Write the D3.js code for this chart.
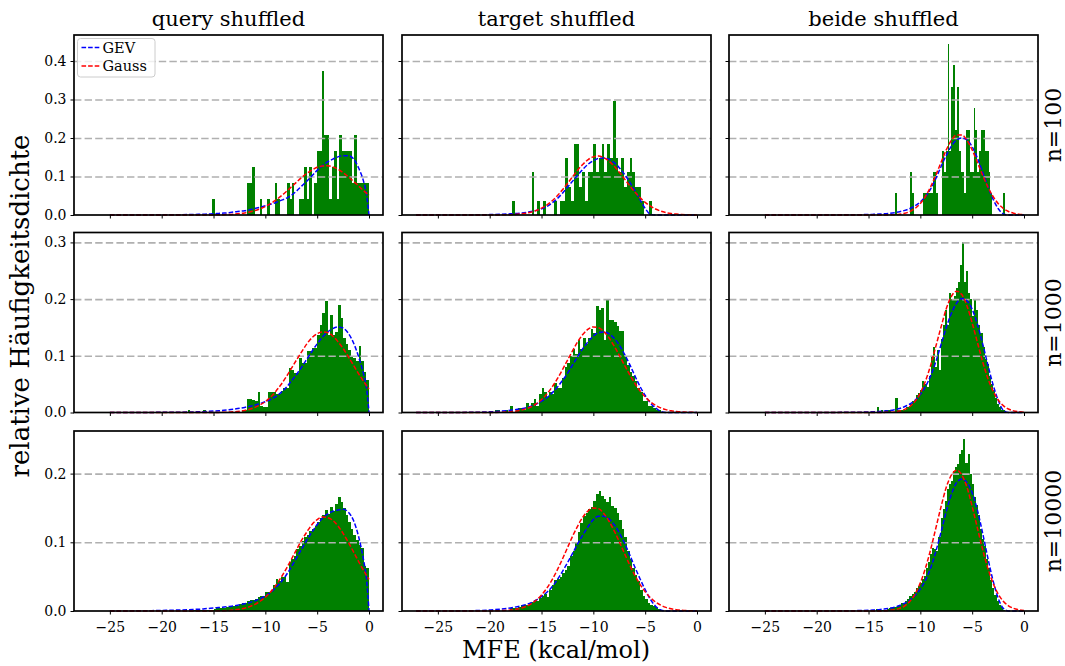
<!DOCTYPE html>
<html>
<head>
<meta charset="utf-8">
<script src="https://cdn.jsdelivr.net/npm/d3@7"></script>
<style>
  body { margin: 0; background: #fff; }
  svg { display: block; font-family: 'DejaVu Serif', serif; }
</style>
</head>
<body>
<div id="chart"></div>
<script>

// ---- data ----

const columnTitles = ['query shuffled', 'target shuffled', 'beide shuffled']
const rowLabels = ['n=100', 'n=1000', 'n=10000']
const xTicks = [-25, -20, -15, -10, -5, 0]
const xDomain = [-28.46, 1.35]
const yTicksByRow = [[0, 0.1, 0.2, 0.3, 0.4], [0, 0.1, 0.2, 0.3], [0, 0.1, 0.2]]
const yMaxByRow = [0.4675, 0.3175, 0.262]
const legendLabels = ['GEV', 'Gauss']

// histogram bins: first edge and width per panel (row x column)
const binStart = [[-15.1, -17.85, -12.42], [-18, -19.5, -14.4], [-17, -18, -14.25]]
const binWidth = [[0.2397, 0.27, 0.18], [0.25, 0.25, 0.2], [0.25, 0.25, 0.2]]

// relative densities per bin
const histQuery100 = [0.042,0,0,0,0,0,0,0,0,0,0,0,0,0,0.083,0.083,0.125,0,0,0.042,0,0,0.042,0,0,0.083,0.042,0,0,0,0.083,0.042,0.083,0,0,0.042,0.042,0.125,0.042,0.125,0,0.083,0.167,0.167,0.375,0.209,0.209,0.042,0.125,0.167,0.042,0.209,0.167,0.167,0.167,0.167,0.083,0.209,0.083,0.083,0.083,0.083,0.083]
const histTarget100 = [0.037,0,0,0,0,0,0,0.111,0,0.037,0,0.037,0,0,0,0.037,0,0.037,0.037,0.148,0.074,0.037,0.185,0.185,0.074,0.111,0.037,0.111,0.111,0.185,0.111,0.148,0.185,0.111,0.185,0.148,0.296,0.148,0.111,0.148,0.074,0.111,0.148,0.111,0.074,0.074,0.037,0,0,0.037]
const histBeide100 = [0.056,0,0,0,0,0,0,0,0.111,0.056,0,0,0,0,0,0.056,0.056,0.056,0.056,0.056,0.111,0.111,0.056,0,0,0.167,0.111,0.167,0.444,0.167,0.333,0.389,0.222,0.333,0.167,0.111,0.111,0.056,0.222,0.222,0.111,0.111,0.278,0.222,0.111,0.167,0.222,0.222,0.167,0.167,0.111,0.056,0,0,0,0,0,0,0.056]

const histQuery1000 = [0,0,0.004,0,0,0,0,0,0.004,0,0,0,0,0,0,0,0,0,0,0,0,0,0,0.004,0.004,0.024,0.024,0.022,0.02,0.037,0.011,0.01,0.01,0.037,0.037,0.036,0.032,0.032,0.038,0.043,0.043,0.079,0.075,0.07,0.07,0.096,0.088,0.088,0.108,0.108,0.114,0.114,0.137,0.154,0.175,0.196,0.137,0.172,0.137,0.142,0.19,0.167,0.131,0.12,0.111,0.1,0.096,0.09,0.117,0.09,0.072,0.058]
const histTarget1000 = [0.004,0.004,0,0,0.004,0,0.012,0,0.004,0.008,0.008,0.004,0.016,0.012,0.016,0.024,0.012,0.032,0.044,0.036,0.028,0.036,0.032,0.052,0.044,0.044,0.06,0.08,0.088,0.1,0.112,0.104,0.128,0.112,0.132,0.12,0.132,0.148,0.14,0.188,0.18,0.184,0.128,0.2,0.164,0.164,0.16,0.152,0.144,0.144,0.1,0.084,0.072,0.064,0.056,0.044,0.036,0.02,0.02,0.012,0.012,0.008,0.004,0.004]
const histBeide1000 = [0,0.01,0,0.005,0,0.005,0.005,0.005,0,0,0.025,0.005,0.005,0.005,0.005,0.01,0.01,0.015,0.02,0.02,0.03,0.035,0.04,0.055,0.05,0.045,0.065,0.1,0.115,0.08,0.11,0.075,0.13,0.155,0.18,0.155,0.21,0.2,0.205,0.22,0.23,0.26,0.3,0.23,0.25,0.21,0.2,0.17,0.2,0.18,0.155,0.14,0.115,0.095,0.085,0.065,0.05,0.04,0.025,0.015,0.01,0.005,0.005]

const histQuery10000 = [0.001,0.001,0.001,0.001,0.002,0.002,0.002,0.002,0.003,0.004,0.004,0.005,0.005,0.006,0.006,0.007,0.008,0.008,0.01,0.011,0.012,0.014,0.016,0.016,0.018,0.02,0.022,0.022,0.027,0.028,0.031,0.038,0.047,0.044,0.05,0.05,0.042,0.072,0.076,0.08,0.09,0.095,0.102,0.108,0.11,0.117,0.12,0.124,0.13,0.135,0.14,0.147,0.141,0.152,0.145,0.156,0.166,0.158,0.15,0.14,0.13,0.12,0.11,0.104,0.096,0.091,0.065,0.063]
const histTarget10000 = [0.005,0.005,0.005,0.006,0.009,0.009,0.009,0.011,0.013,0.015,0.015,0.019,0.022,0.025,0.021,0.031,0.038,0.045,0.047,0.05,0.055,0.06,0.066,0.08,0.087,0.1,0.115,0.128,0.138,0.143,0.148,0.152,0.16,0.171,0.175,0.168,0.163,0.158,0.166,0.153,0.15,0.142,0.132,0.12,0.107,0.088,0.075,0.062,0.052,0.043,0.03,0.022,0.017,0.012,0.009,0.007,0.005,0.003,0.002]
const histBeide10000 = [0.003,0.001,0.001,0.002,0.002,0.003,0.004,0.005,0.006,0.006,0.007,0.009,0.011,0.012,0.015,0.018,0.022,0.025,0.028,0.033,0.036,0.041,0.046,0.051,0.062,0.071,0.083,0.092,0.09,0.088,0.107,0.136,0.148,0.16,0.177,0.185,0.189,0.204,0.21,0.214,0.228,0.235,0.25,0.215,0.229,0.2,0.185,0.166,0.155,0.14,0.12,0.105,0.094,0.075,0.062,0.045,0.033,0.024,0.014,0.009,0.006,0.002]

// fitted curves, read at these MFE values
const curveX = [-27.1,-25,-22,-20,-18,-17,-16,-15.5,-15,-14.5,-14,-13.5,-13,-12.5,-12,-11.5,-11,-10.5,-10,-9.5,-9,-8.5,-8,-7.5,-7,-6.5,-6,-5.5,-5,-4.5,-4,-3.5,-3,-2.5,-2,-1.5,-1,-0.5,-0.25,0]

const gevQuery100 = [null,0,0.0002,0.0005,0.0009,0.0014,0.002,0.0025,0.003,0.004,0.005,0.006,0.008,0.0095,0.011,0.014,0.017,0.02,0.024,0.028,0.032,0.038,0.043,0.051,0.062,0.075,0.088,0.102,0.116,0.128,0.138,0.145,0.151,0.154,0.154,0.146,0.122,0.085,0.055,0]
const gaussQuery100 = [null,0,0,0,0,0,0.0001,0.0002,0.0003,0.0005,0.0009,0.0014,0.0023,0.0036,0.0054,0.008,0.0115,0.0162,0.0222,0.0297,0.0385,0.0489,0.0604,0.0726,0.0851,0.0972,0.108,0.117,0.124,0.127,0.128,0.125,0.119,0.11,0.0995,0.0876,0.0751,0.0628,0.0569,0.0511]
const gevTarget100 = [0,0,0.0002,0.001,0.003,0.005,0.009,0.012,0.016,0.022,0.031,0.042,0.056,0.072,0.088,0.104,0.119,0.132,0.141,0.147,0.148,0.145,0.136,0.123,0.106,0.086,0.064,0.04,0.017,0.002,0,0,0,0,0,0,0,0,0,0]
const gaussTarget100 = [0,0,0,0.0001,0.0008,0.0027,0.0074,0.0117,0.0177,0.0259,0.0365,0.0494,0.0648,0.0818,0.0995,0.117,0.132,0.144,0.151,0.153,0.149,0.14,0.127,0.111,0.0938,0.0762,0.0597,0.0451,0.0328,0.023,0.0156,0.0101,0.0064,0.0039,0.0023,0.0013,0.0007,0.0004,0.0003,0.0002]
const gevBeide100 = [null,0,0,0.0001,0.0003,0.0005,0.0008,0.001,0.0013,0.0017,0.0023,0.003,0.0042,0.006,0.0085,0.012,0.017,0.024,0.034,0.048,0.068,0.095,0.126,0.155,0.179,0.195,0.2,0.195,0.177,0.148,0.112,0.075,0.042,0.017,0.003,0,0,0,0,0]
const gaussBeide100 = [null,0,0,0,0,0,0,0,0,0,0.0001,0.0001,0.0004,0.0009,0.0022,0.0046,0.0092,0.0172,0.03,0.0487,0.0737,0.104,0.137,0.169,0.194,0.208,0.208,0.194,0.169,0.137,0.104,0.0737,0.0487,0.03,0.0172,0.0092,0.0046,0.0022,0.0014,0.0009]

const gevQuery1000 = [null,0,0.0001,0.0003,0.0006,0.001,0.0015,0.002,0.0025,0.003,0.004,0.005,0.006,0.0075,0.009,0.011,0.013,0.016,0.019,0.023,0.028,0.035,0.044,0.055,0.067,0.08,0.094,0.108,0.121,0.133,0.142,0.148,0.151,0.149,0.14,0.123,0.098,0.066,0.045,0]
const gaussQuery1000 = [null,0,0,0,0,0,0,0.0001,0.0001,0.0002,0.0004,0.0008,0.0013,0.0022,0.0037,0.0058,0.009,0.0134,0.0194,0.0273,0.0372,0.049,0.0625,0.0773,0.0925,0.107,0.121,0.132,0.139,0.142,0.141,0.135,0.125,0.113,0.0986,0.0833,0.0683,0.0542,0.0477,0.0417]
const gevTarget1000 = [0,0,0.0003,0.0012,0.004,0.0065,0.011,0.015,0.02,0.026,0.034,0.044,0.056,0.069,0.084,0.099,0.113,0.125,0.135,0.141,0.142,0.139,0.131,0.119,0.103,0.085,0.065,0.046,0.03,0.017,0.008,0.002,0,0,0,0,0,0,0,0]
const gaussTarget1000 = [0,0,0,0.0001,0.0013,0.0039,0.0101,0.0156,0.0228,0.0324,0.0444,0.0587,0.0748,0.092,0.109,0.125,0.138,0.147,0.151,0.1495,0.143,0.132,0.1175,0.101,0.0836,0.0668,0.0516,0.0383,0.0275,0.019,0.0128,0.0082,0.0051,0.0031,0.0018,0.001,0.0005,0.0003,0.0002,0.0001]
const gevBeide1000 = [null,0,0,0.0001,0.0002,0.0003,0.0005,0.0007,0.001,0.0013,0.0018,0.0025,0.0035,0.005,0.007,0.0105,0.015,0.022,0.032,0.046,0.065,0.09,0.12,0.15,0.175,0.193,0.201,0.197,0.182,0.156,0.122,0.085,0.05,0.022,0.004,0,0,0,0,0]
const gaussBeide1000 = [null,0,0,0,0,0,0,0,0,0,0.0001,0.0002,0.0004,0.0011,0.0025,0.0054,0.0107,0.02,0.0346,0.0558,0.0836,0.117,0.151,0.183,0.205,0.214,0.208,0.188,0.158,0.124,0.09,0.0608,0.0383,0.0225,0.0122,0.0062,0.0029,0.0013,0.0008,0.0005]

const gevQuery10000 = [null,0,0.0003,0.0008,0.0016,0.0022,0.003,0.0037,0.0045,0.005,0.0057,0.0065,0.0075,0.009,0.0105,0.0125,0.015,0.018,0.022,0.027,0.034,0.042,0.052,0.064,0.077,0.09,0.103,0.115,0.126,0.135,0.141,0.145,0.147,0.148,0.144,0.132,0.108,0.072,0.048,0]
const gaussQuery10000 = [null,0,0,0,0,0,0,0.0001,0.0002,0.0003,0.0005,0.0009,0.0016,0.0026,0.0041,0.0064,0.0097,0.0142,0.0201,0.0278,0.0373,0.0484,0.0611,0.0749,0.0891,0.103,0.115,0.126,0.133,0.137,0.136,0.132,0.124,0.113,0.1,0.0862,0.072,0.0584,0.052,0.046]
const gevTarget10000 = [0,0,0.0004,0.0015,0.0045,0.0075,0.012,0.016,0.021,0.027,0.035,0.045,0.057,0.07,0.084,0.098,0.111,0.123,0.133,0.138,0.138,0.134,0.126,0.114,0.099,0.082,0.064,0.047,0.031,0.017,0.007,0.0015,0,0,0,0,0,0,0,0]
const gaussTarget10000 = [0,0,0,0.0001,0.0014,0.0041,0.0105,0.016,0.0234,0.033,0.0449,0.0591,0.075,0.092,0.109,0.124,0.137,0.146,0.15,0.149,0.142,0.131,0.117,0.101,0.0838,0.0672,0.052,0.0389,0.0281,0.0195,0.0131,0.0085,0.0053,0.0032,0.0019,0.0011,0.0006,0.0003,0.0002,0.0001]
const gevBeide10000 = [null,0,0,0.0001,0.0002,0.0004,0.0006,0.0008,0.0011,0.0015,0.002,0.0028,0.004,0.0055,0.008,0.0115,0.016,0.023,0.032,0.045,0.063,0.087,0.115,0.145,0.17,0.187,0.192,0.187,0.172,0.147,0.114,0.078,0.045,0.019,0.004,0,0,0,0,0]
const gaussBeide10000 = [null,0,0,0,0,0,0,0,0,0,0.0001,0.0003,0.0008,0.0018,0.0038,0.0076,0.0143,0.025,0.041,0.0628,0.09,0.121,0.152,0.18,0.198,0.205,0.198,0.18,0.152,0.121,0.09,0.0628,0.041,0.025,0.0143,0.0076,0.0038,0.0018,0.0012,0.0008]

const histograms = [
  [histQuery100, histTarget100, histBeide100],
  [histQuery1000, histTarget1000, histBeide1000],
  [histQuery10000, histTarget10000, histBeide10000]
]
const gevCurves = [
  [gevQuery100, gevTarget100, gevBeide100],
  [gevQuery1000, gevTarget1000, gevBeide1000],
  [gevQuery10000, gevTarget10000, gevBeide10000]
]
const gaussCurves = [
  [gaussQuery100, gaussTarget100, gaussBeide100],
  [gaussQuery1000, gaussTarget1000, gaussBeide1000],
  [gaussQuery10000, gaussTarget10000, gaussBeide10000]
]

// ---- layout ----

const width = 1065, height = 666
const colLeft = [74, 402, 729]
const rowTop = [35, 232.5, 431]
const panelW = 309, panelH = 180

const colors = { bar: '#008000', gev: '#0000ff', gauss: '#ff0000', grid: '#b0b0b0' }

const svg = d3.select('#chart').append('svg')
  .attr('width', width)
  .attr('height', height)

const x = d3.scaleLinear().domain(xDomain).range([0, panelW])

const line = (y) => d3.line()
  .defined(d => d[1] != null)
  .x(d => x(d[0]))
  .y(d => y(d[1]))
  .curve(d3.curveMonotoneX)

rowLabels.forEach((rowLabel, r) => {

  const y = d3.scaleLinear().domain([0, yMaxByRow[r]]).range([panelH, 0])

  columnTitles.forEach((title, c) => {

    const g = svg.append('g')
      .attr('transform', 'translate(' + colLeft[c] + ',' + rowTop[r] + ')')

    // histogram bars
    const x0 = binStart[r][c], w = binWidth[r][c]
    const bins = histograms[r][c]
      .map((h, i) => ({ lo: x0 + i * w, hi: x0 + (i + 1) * w, h: h }))
      .filter(d => d.h > 0)

    g.append('g')
      .attr('shape-rendering', 'crispEdges')
      .selectAll('rect')
      .data(bins)
      .join('rect')
        .attr('x', d => x(d.lo))
        .attr('width', d => x(d.hi) - x(d.lo))
        .attr('y', d => y(d.h))
        .attr('height', d => y(0) - y(d.h))
        .attr('fill', colors.bar)

    // dashed horizontal grid, above bars
    g.append('g')
      .call(d3.axisLeft(y).tickValues(yTicksByRow[r].slice(1)).tickSize(-panelW).tickFormat(''))
      .call(a => a.select('.domain').remove())
      .selectAll('.tick line')
        .attr('stroke', colors.grid)
        .attr('stroke-width', 1.6)
        .attr('stroke-dasharray', '7.4,3.2')

    // fitted curves
    const gev = curveX.map((v, i) => [v, gevCurves[r][c][i]])
    const gauss = curveX.map((v, i) => [v, gaussCurves[r][c][i]])

    g.append('path')
      .attr('d', line(y)(gev))
      .attr('fill', 'none')
      .attr('stroke', colors.gev)
      .attr('stroke-width', 1.5)
      .attr('stroke-dasharray', '4.6,2')

    g.append('path')
      .attr('d', line(y)(gauss))
      .attr('fill', 'none')
      .attr('stroke', colors.gauss)
      .attr('stroke-width', 1.5)
      .attr('stroke-dasharray', '4.6,2')

    // axes
    const xAxis = d3.axisBottom(x).tickValues(xTicks).tickSize(3.5).tickPadding(7.5)
    if (r < rowLabels.length - 1) xAxis.tickFormat('')
    g.append('g')
      .attr('transform', 'translate(0,' + panelH + ')')
      .call(xAxis)
      .call(a => a.select('.domain').remove())
      .call(a => a.selectAll('text').attr('font-size', 14).attr('font-family', 'DejaVu Serif'))

    const yAxis = d3.axisLeft(y).tickValues(yTicksByRow[r]).tickSize(3.5).tickPadding(4)
      .tickFormat(c === 0 ? d3.format('.1f') : '')
    g.append('g')
      .call(yAxis)
      .call(a => a.select('.domain').remove())
      .call(a => a.selectAll('text').attr('font-size', 14).attr('font-family', 'DejaVu Serif'))

    // frame
    g.append('rect')
      .attr('width', panelW)
      .attr('height', panelH)
      .attr('fill', 'none')
      .attr('stroke', '#000')
      .attr('stroke-width', 1.7)

    if (r === 0) {
      svg.append('text')
        .attr('x', colLeft[c] + panelW / 2)
        .attr('y', 26)
        .attr('text-anchor', 'middle')
        .attr('font-size', 21)
        .text(title)
    }
  })

  svg.append('text')
    .attr('transform', 'translate(1061,' + (rowTop[r] + panelH / 2) + ') rotate(-90)')
    .attr('text-anchor', 'middle')
    .attr('font-size', 22)
    .text(rowLabel)
})

// legend in first panel
const legend = svg.append('g').attr('transform', 'translate(' + (colLeft[0] + 3.5) + ',' + (rowTop[0] + 3.5) + ')')
legend.append('rect')
  .attr('width', 77.5)
  .attr('height', 38.5)
  .attr('rx', 3)
  .attr('fill', '#fff')
  .attr('fill-opacity', 0.8)
  .attr('stroke', '#cccccc')
  .attr('stroke-width', 1)

legendLabels.forEach((label, i) => {
  const ly = 9 + i * 18.5
  legend.append('line')
    .attr('x1', 4).attr('x2', 22)
    .attr('y1', ly).attr('y2', ly)
    .attr('stroke', i === 0 ? colors.gev : colors.gauss)
    .attr('stroke-width', 1.5)
    .attr('stroke-dasharray', '4.6,2')
  legend.append('text')
    .attr('x', 25)
    .attr('y', ly + 5)
    .attr('font-size', 14.5)
    .text(label)
})

// axis labels
svg.append('text')
  .attr('x', (colLeft[0] + colLeft[2] + panelW) / 2)
  .attr('y', 658)
  .attr('text-anchor', 'middle')
  .attr('font-size', 24)
  .text('MFE (kcal/mol)')

svg.append('text')
  .attr('transform', 'translate(29,306) rotate(-90)')
  .attr('text-anchor', 'middle')
  .attr('font-size', 26)
  .text('relative Häufigkeitsdichte')

</script>
</body>
</html>
